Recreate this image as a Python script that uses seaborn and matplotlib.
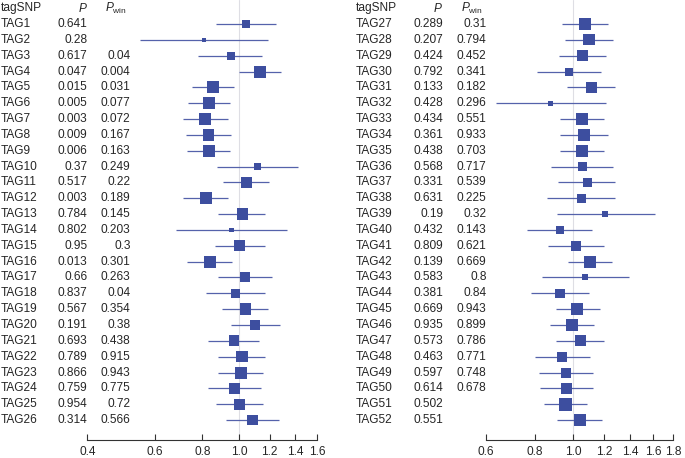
import numpy as np
import pandas as pd
import matplotlib
matplotlib.use('Agg')
import matplotlib.pyplot as plt
import matplotlib.transforms as mtransforms
import seaborn as sns

# tag SNPs, left block 1-26, right block 27-52
tags_left = [f'TAG{i}' for i in range(1, 27)]
tags_right = [f'TAG{i}' for i in range(27, 53)]

p_left = ['0.641', '0.28', '0.617', '0.047', '0.015', '0.005', '0.003', '0.009', '0.006', '0.37',
          '0.517', '0.003', '0.784', '0.802', '0.95', '0.013', '0.66', '0.837', '0.567', '0.191',
          '0.693', '0.789', '0.866', '0.759', '0.954', '0.314']
pwin_left = ['', '', '0.04', '0.004', '0.031', '0.077', '0.072', '0.167', '0.163', '0.249',
             '0.22', '0.189', '0.145', '0.203', '0.3', '0.301', '0.263', '0.04', '0.354', '0.38',
             '0.438', '0.915', '0.943', '0.775', '0.72', '0.566']
p_right = ['0.289', '0.207', '0.424', '0.792', '0.133', '0.428', '0.434', '0.361', '0.438', '0.568',
           '0.331', '0.631', '0.19', '0.432', '0.809', '0.139', '0.583', '0.381', '0.669', '0.935',
           '0.573', '0.463', '0.597', '0.614', '0.502', '0.551']
pwin_right = ['0.31', '0.794', '0.452', '0.341', '0.182', '0.296', '0.551', '0.933', '0.703', '0.717',
              '0.539', '0.225', '0.32', '0.143', '0.621', '0.669', '0.8', '0.84', '0.943', '0.899',
              '0.786', '0.771', '0.748', '0.678', '', '']

# odds ratios with 95% CI
or_left = [1.04, 0.808, 0.951, 1.133, 0.852, 0.835, 0.815, 0.832, 0.832, 1.115, 1.046, 0.817, 1.018,
           0.955, 1.002, 0.838, 1.035, 0.978, 1.04, 1.099, 0.969, 1.016, 1.01, 0.973, 1.0, 1.081]
lo_left = [0.867, 0.55, 0.781, 1.0, 0.75, 0.734, 0.714, 0.724, 0.728, 0.873, 0.906, 0.714, 0.881,
           0.682, 0.862, 0.728, 0.878, 0.818, 0.903, 0.949, 0.828, 0.88, 0.881, 0.828, 0.87, 0.923]
hi_left = [1.25, 1.19, 1.149, 1.286, 0.968, 0.946, 0.936, 0.953, 0.944, 1.427, 1.198, 0.936, 1.168,
           1.336, 1.168, 0.959, 1.216, 1.168, 1.191, 1.276, 1.126, 1.168, 1.154, 1.142, 1.154, 1.27]
w_left = [64, 16, 64, 144, 144, 144, 144, 128, 144, 44, 114, 144, 128,
          22, 114, 144, 100, 87, 128, 114, 114, 128, 144, 114, 128, 114]

or_right = [1.073, 1.098, 1.058, 0.975, 1.113, 0.878, 1.054, 1.066, 1.054, 1.056, 1.087, 1.05, 1.21,
            0.927, 1.02, 1.102, 1.075, 0.927, 1.026, 0.994, 1.044, 0.94, 0.958, 0.962, 0.956, 1.044]
lo_right = [0.94, 0.952, 0.921, 0.81, 0.967, 0.636, 0.925, 0.929, 0.925, 0.878, 0.918, 0.859, 0.911,
            0.766, 0.866, 0.969, 0.833, 0.782, 0.904, 0.876, 0.904, 0.799, 0.818, 0.823, 0.842, 0.911]
hi_right = [1.23, 1.268, 1.215, 1.176, 1.278, 1.215, 1.203, 1.227, 1.203, 1.268, 1.283, 1.283, 1.615,
            1.12, 1.203, 1.254, 1.387, 1.098, 1.169, 1.131, 1.203, 1.107, 1.124, 1.124, 1.087, 1.185]
w_right = [128, 128, 128, 64, 128, 22, 144, 144, 144, 75, 87, 75, 36,
           75, 100, 144, 36, 87, 144, 144, 128, 100, 100, 114, 160, 144]

ticks_left = [0.4, 0.6, 0.8, 1.0, 1.2, 1.4, 1.6]
ticks_right = [0.6, 0.8, 1.0, 1.2, 1.4, 1.6, 1.8]

sns.set_theme(style='white')
plt.rcParams['font.family'] = ['Liberation Sans', 'DejaVu Sans']
plt.rcParams['mathtext.fontset'] = 'custom'
plt.rcParams['mathtext.rm'] = 'Liberation Sans'
plt.rcParams['mathtext.it'] = 'Liberation Sans:italic'

SQ_COLOR = '#3d4e9f'
LINE_COLOR = '#5562ab'
FS = 8.6
W, H = 685, 458


def forest(fig, ax, df, ticks, x_tag, x_p, x_pwin):  # one block of the forest plot
    ax.set_xscale('log')
    ax.axvline(1.0, color='#dedee4', lw=0.8, zorder=0)
    ax.hlines(df['row'], df['lo'], df['hi'], color=LINE_COLOR, lw=0.9, zorder=1)
    sns.scatterplot(data=df, x='or', y='row', size='w', sizes=(16 * 0.518, 160 * 0.518),
                    size_norm=(16, 160), marker='s', color=SQ_COLOR, linewidth=0,
                    legend=False, ax=ax, zorder=2)
    ax.set_xlim(ticks[0], ticks[-1])
    ax.set_ylim(27.26, -0.515)
    ax.set_xticks(ticks)
    ax.set_xticklabels([f'{t:.1f}' for t in ticks])
    ax.xaxis.set_minor_locator(plt.NullLocator())
    ax.set_yticks([])
    ax.set_xlabel('')
    ax.set_ylabel('')
    for s in ['top', 'right', 'left']:
        ax.spines[s].set_visible(False)
    ax.spines['bottom'].set_color('#333333')
    ax.spines['bottom'].set_linewidth(0.8)
    ax.tick_params(axis='x', direction='in', length=4, width=0.8, color='#333333',
                   labelsize=FS, pad=4, bottom=True)
    ax.patch.set_alpha(0)

    # text table to the left of the plot
    tr = mtransforms.blended_transform_factory(fig.transFigure, ax.transData)
    ax.text(x_tag / W, 0, 'tagSNP', transform=tr, ha='left', va='center', fontsize=FS)
    ax.text(x_p / W, 0, '$P$', transform=tr, ha='right', va='center', fontsize=FS)
    ax.text((x_pwin - 4) / W, 0, r'$P_{\rm win}$', transform=tr, ha='right', va='center', fontsize=FS)
    for _, r in df.iterrows():
        ax.text(x_tag / W, r['row'], r['tag'], transform=tr, ha='left', va='center', fontsize=FS)
        ax.text(x_p / W, r['row'], r['p'], transform=tr, ha='right', va='center', fontsize=FS)
        ax.text(x_pwin / W, r['row'], r['pwin'], transform=tr, ha='right', va='center', fontsize=FS)


def main():
    rows = list(range(1, 27))
    df_left = pd.DataFrame({'tag': tags_left, 'p': p_left, 'pwin': pwin_left, 'or': or_left,
                            'lo': lo_left, 'hi': hi_left, 'w': w_left, 'row': rows})
    df_right = pd.DataFrame({'tag': tags_right, 'p': p_right, 'pwin': pwin_right, 'or': or_right,
                             'lo': lo_right, 'hi': hi_right, 'w': w_right, 'row': rows})

    fig = plt.figure(figsize=(6.85, 4.58), dpi=100)
    bottom = (H - 440) / H
    ax1 = fig.add_axes([87.3 / W, bottom, (317.3 - 87.3) / W, 1 - bottom])
    ax2 = fig.add_axes([485.7 / W, bottom, (673.3 - 485.7) / W, 1 - bottom])
    forest(fig, ax1, df_left, ticks_left, 0.5, 87.5, 130.7)
    forest(fig, ax2, df_right, ticks_right, 356, 443.3, 486.7)
    fig.savefig('out.png', dpi=100)


if __name__ == '__main__':
    main()
